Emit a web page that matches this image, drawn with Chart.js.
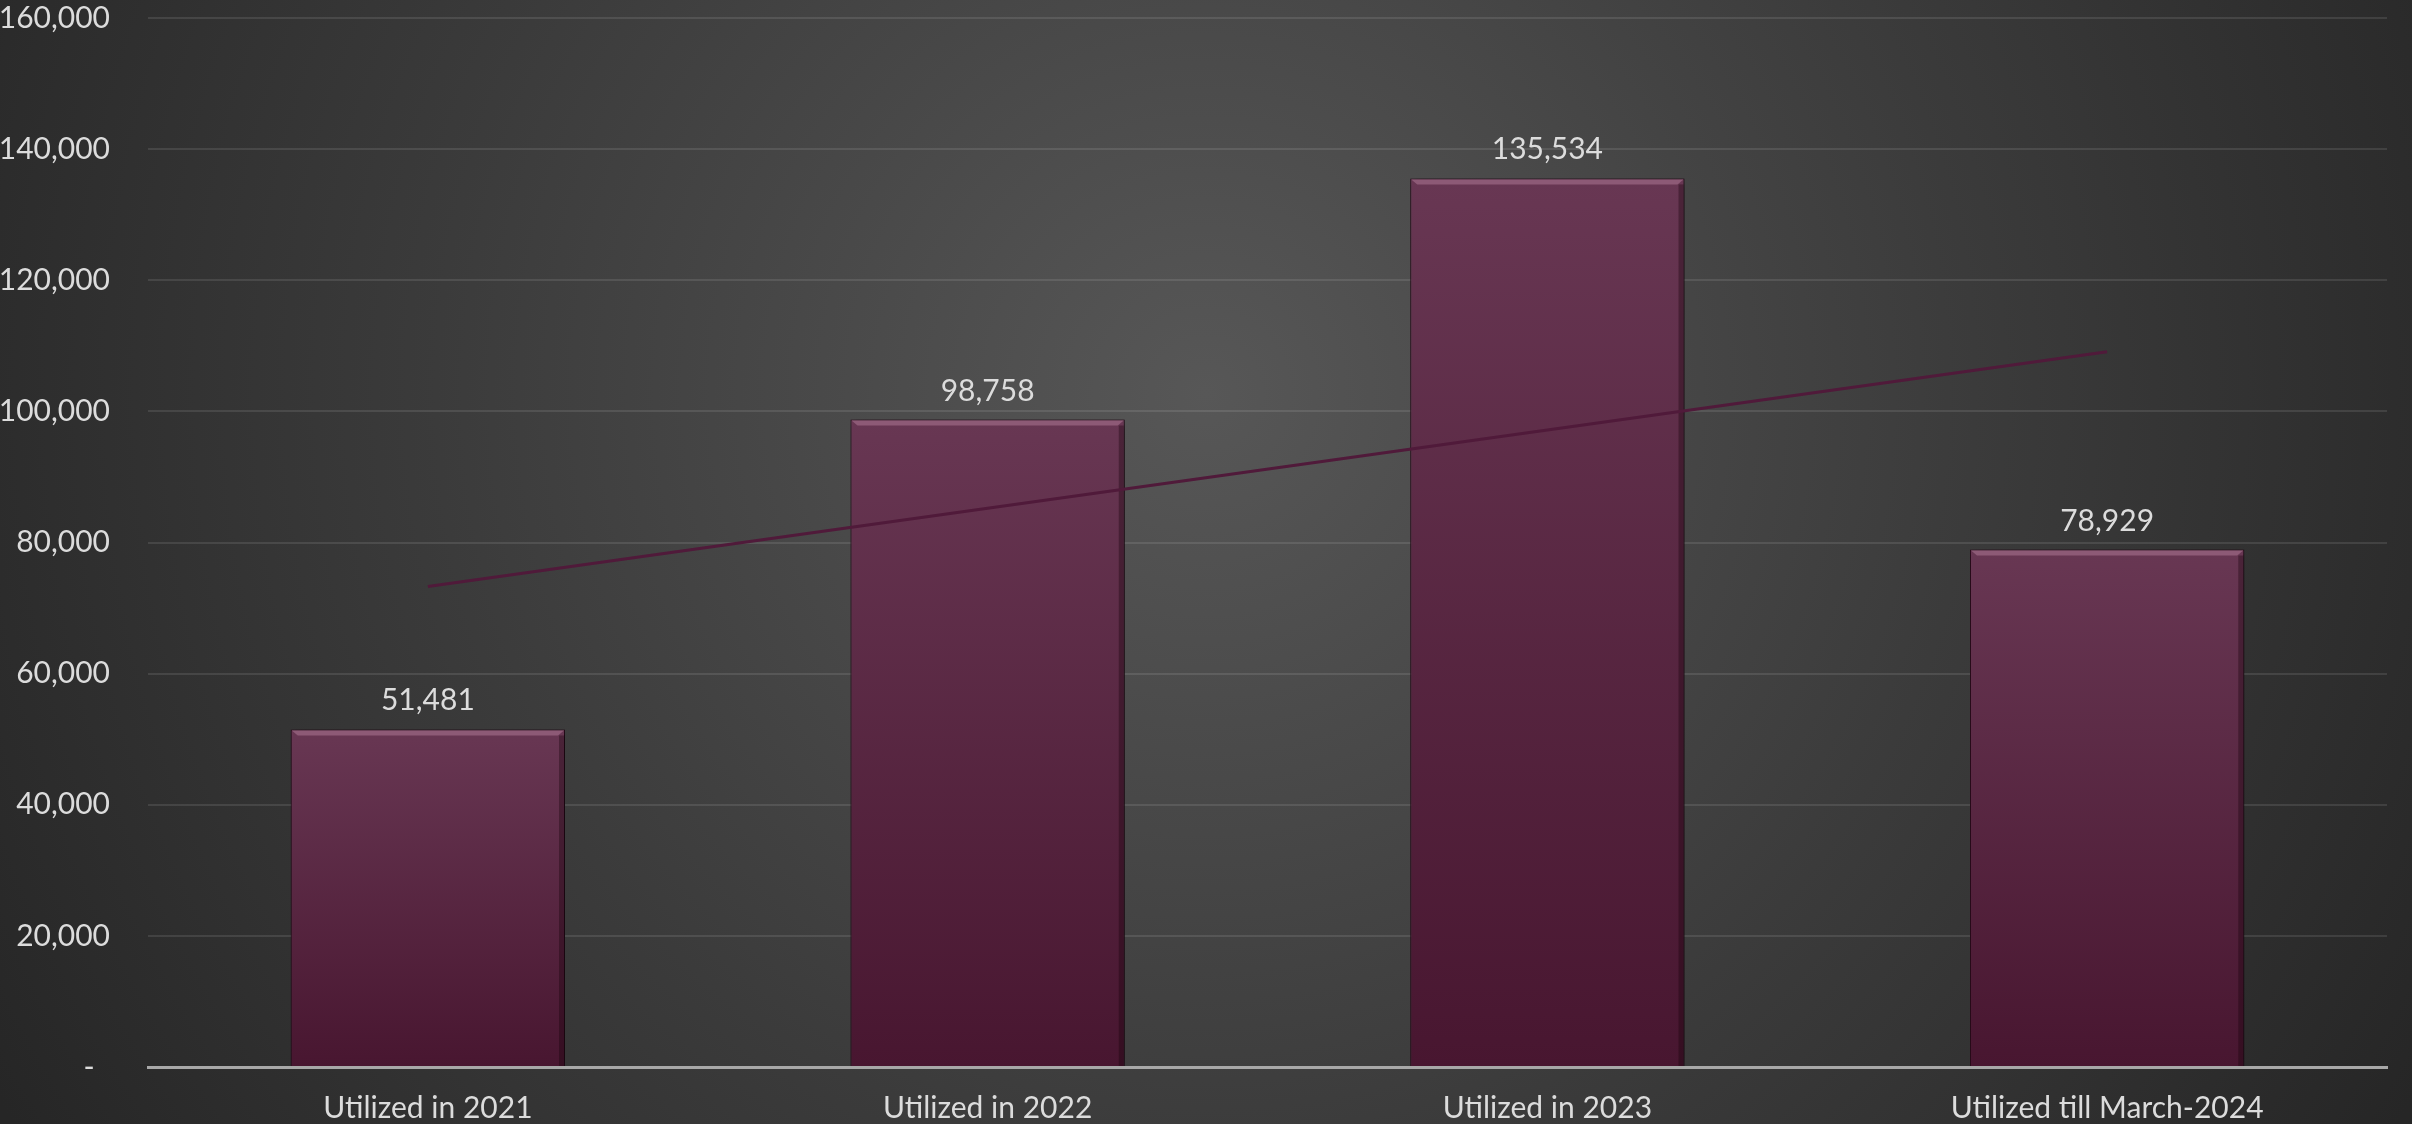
<!DOCTYPE html>
<html>
<head>
<meta charset="utf-8">
<script src="https://cdn.jsdelivr.net/npm/chart.js@4.4.1/dist/chart.umd.min.js"></script>
<style>
  html, body { margin: 0; padding: 0; background: #2a2a2a; overflow: hidden; }
  #wrap { width: 2412px; height: 1124px; }
</style>
</head>
<body>
<div id="wrap"><canvas id="usage"></canvas></div>
<script>
// values
const categories = ["Utilized in 2021", "Utilized in 2022", "Utilized in 2023", "Utilized till March-2024"];
const utilized = [51481, 98758, 135534, 78929];
const trendValues = [73300, 85240, 97170, 109100];
const yTicks = [0, 20000, 40000, 60000, 80000, 100000, 120000, 140000, 160000];

const textColor = "#dcdcdc";

// accounting style: zero shows as a dash, pushed left a bit
function fmt(v) {
  return v === 0 ? "-  " : v.toLocaleString("en-US");
}

// dark radial backdrop, lighter near the middle
const backdrop = {
  id: "backdrop",
  beforeDraw(chart) {
    const ctx = chart.ctx;
    const w = chart.width, h = chart.height;
    const g = ctx.createRadialGradient(w * 0.5, h * 0.35, 0, w * 0.5, h * 0.35, w * 0.58);
    g.addColorStop(0, "#575757");
    g.addColorStop(0.55, "#3b3b3b");
    g.addColorStop(1, "#262626");
    ctx.save();
    ctx.fillStyle = g;
    ctx.fillRect(0, 0, w, h);
    ctx.restore();
  }
};

// soft shadow under the bars
const barShadow = {
  id: "barShadow",
  beforeDatasetDraw(chart, args) {
    if (chart.data.datasets[args.index].type !== "bar") return;
    const ctx = chart.ctx;
    ctx.save();
    ctx.shadowColor = "rgba(0,0,0,0.65)";
    ctx.shadowBlur = 10;
    ctx.shadowOffsetX = 3;
    ctx.shadowOffsetY = 2;
  },
  afterDatasetDraw(chart, args) {
    if (chart.data.datasets[args.index].type !== "bar") return;
    const ctx = chart.ctx;
    ctx.restore();
    // bevel highlight on top edge
    chart.getDatasetMeta(args.index).data.forEach(bar => {
      const left = bar.x - bar.width / 2, right = bar.x + bar.width / 2;
      ctx.save();
      ctx.fillStyle = "#8d5a76";
      ctx.beginPath();
      ctx.moveTo(left + 1, bar.y + 1);
      ctx.lineTo(right - 1, bar.y + 1);
      ctx.lineTo(right - 7, bar.y + 6);
      ctx.lineTo(left + 7, bar.y + 6);
      ctx.closePath();
      ctx.fill();
      ctx.fillStyle = "rgba(20,0,10,0.35)";
      ctx.fillRect(right - 6, bar.y + 6, 5, bar.base - bar.y - 6);
      ctx.restore();
    });
  }
};

// value labels above each bar
const valueLabels = {
  id: "valueLabels",
  afterDatasetsDraw(chart) {
    const ctx = chart.ctx;
    const meta = chart.getDatasetMeta(1);
    ctx.save();
    ctx.font = "30px Lato";
    ctx.fillStyle = textColor;
    ctx.textAlign = "center";
    ctx.textBaseline = "alphabetic";
    meta.data.forEach((bar, i) => {
      ctx.fillText(fmt(utilized[i]), bar.x, bar.y - 19);
    });
    ctx.restore();
  }
};

function barGradient(context) {
  const chart = context.chart;
  const y = chart.scales.y;
  const fallback = "#5a2643";
  if (!y || !chart.chartArea || typeof context.raw !== "number") return fallback;
  const top = y.getPixelForValue(context.raw);
  const base = y.getPixelForValue(0);
  if (!isFinite(top) || !isFinite(base)) return fallback;
  const g = chart.ctx.createLinearGradient(0, top, 0, base);
  g.addColorStop(0, "#683753");
  g.addColorStop(1, "#481630");
  return g;
}

Chart.defaults.font.family = "Lato";
Chart.defaults.font.size = 30;
Chart.defaults.color = textColor;

new Chart(document.getElementById("usage"), {
  data: {
    labels: categories,
    datasets: [
      {
        type: "line",
        label: "Trend",
        data: trendValues,
        borderColor: "#501a3a",
        borderWidth: 3,
        pointRadius: 0,
        tension: 0,
        order: 0
      },
      {
        type: "bar",
        label: "Utilized",
        data: utilized,
        backgroundColor: barGradient,
        borderColor: "#2c0c1d",
        borderWidth: 1,
        categoryPercentage: 1,
        barPercentage: 0.49,
        order: 1
      }
    ]
  },
  options: {
    responsive: true,
    maintainAspectRatio: false,
    animation: false,
    layout: { padding: { top: 18, right: 25, left: 0, bottom: 0 } },
    plugins: {
      legend: { display: false },
      tooltip: { enabled: false }
    },
    scales: {
      x: {
        afterFit(scale) {
          scale.height = 57;
          scale.paddingLeft = 0;
          scale.paddingRight = 0;
        },
        grid: { display: false },
        border: { color: "#a8a8a8", width: 3 },
        ticks: { padding: 15, color: textColor, maxRotation: 0 }
      },
      y: {
        min: 0,
        max: 160000,
        afterFit(scale) {
          scale.width = 148;
          scale.paddingTop = 0;
          scale.paddingBottom = 0;
        },
        afterBuildTicks(scale) { scale.ticks = yTicks.map(v => ({ value: v })); },
        grid: {
          color: ctx => ctx.tick && ctx.tick.value === 0 ? "rgba(0,0,0,0)" : "rgba(255,255,255,0.1)",
          lineWidth: 2,
          drawTicks: false
        },
        border: { display: false },
        ticks: {
          padding: 38,
          color: textColor,
          callback: v => fmt(v)
        }
      }
    }
  },
  plugins: [backdrop, barShadow, valueLabels]
});
</script>
</body>
</html>
